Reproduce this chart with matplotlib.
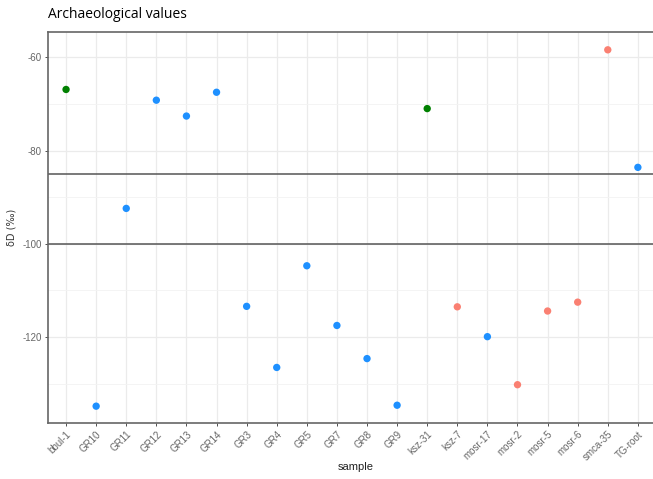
import numpy as np
import matplotlib
matplotlib.use("Agg")
import matplotlib.pyplot as plt

samples = ["bbul-1", "GR10", "GR11", "GR12", "GR13", "GR14", "GR3", "GR4", "GR5",
           "GR7", "GR8", "GR9", "ksz-31", "ksz-7", "mosr-17", "mosr-2", "mosr-5",
           "mosr-6", "smca-35", "TG-root"]
dD = [-66.9, -134.8, -92.4, -69.2, -72.6, -67.5, -113.4, -126.5, -104.7,
      -117.5, -124.6, -134.6, -71.0, -113.5, -119.9, -130.2, -114.4,
      -112.5, -58.4, -83.6]
groups = ["green", "blue", "blue", "blue", "blue", "blue", "blue", "blue", "blue",
          "blue", "blue", "blue", "green", "salmon", "blue", "salmon", "salmon",
          "salmon", "salmon", "blue"]
ref_lines = [-85, -100]

colors = {"green": "#008000", "blue": "#1E90FF", "salmon": "#FA8072"}


def main():
  plt.rcParams["axes.unicode_minus"] = False
  plt.rcParams["font.family"] = ["Liberation Sans", "DejaVu Sans"]
  fig = plt.figure(figsize=(6.53, 4.79), dpi=100)
  ax = fig.add_axes([0.0735, 0.117, 0.931, 0.816])

  x = np.arange(len(samples))
  ax.scatter(x, dD, s=28, c=[colors[g] for g in groups], zorder=3, linewidths=0)
  for y in ref_lines:
    ax.axhline(y, color="#555555", lw=1.1, zorder=2)

  ax.set_xlim(-0.6, len(samples) - 0.4)
  ax.set_ylim(-138.4, -54.6)
  ax.set_xticks(x)
  ax.set_xticklabels(samples, rotation=45, ha="right", rotation_mode="anchor")
  ax.set_yticks([-60, -80, -100, -120])
  ax.set_yticks([-70, -90, -110, -130], minor=True)
  ax.grid(True, which="major", color="#ebebeb", lw=0.9, zorder=0)
  ax.grid(True, which="minor", axis="y", color="#f3f3f3", lw=0.6, zorder=0)
  ax.tick_params(axis="both", which="major", labelsize=7, labelcolor="#666666",
                 color="#333333", length=2.5, width=0.6, pad=2)
  ax.tick_params(axis="y", which="minor", length=0)
  for side in ["top", "bottom", "left"]:
    ax.spines[side].set_color("#666666")
    ax.spines[side].set_linewidth(1.2)
  ax.spines["right"].set_visible(False)

  fig.text(356 / 653, 1 - 467 / 479, "sample", fontsize=8, color="#222222",
           ha="center", va="center")
  fig.text(12 / 653, 1 - 227 / 479, "δD (‰)", fontsize=7, color="#333333",
           ha="center", va="center", rotation=90, family=["DejaVu Sans"])
  fig.text(0.0735, 0.955, "Archaeological values", fontsize=10,
           family="Open Sans", color="black", va="bottom")

  fig.savefig("out.png", dpi=100)


if __name__ == "__main__":
  main()
